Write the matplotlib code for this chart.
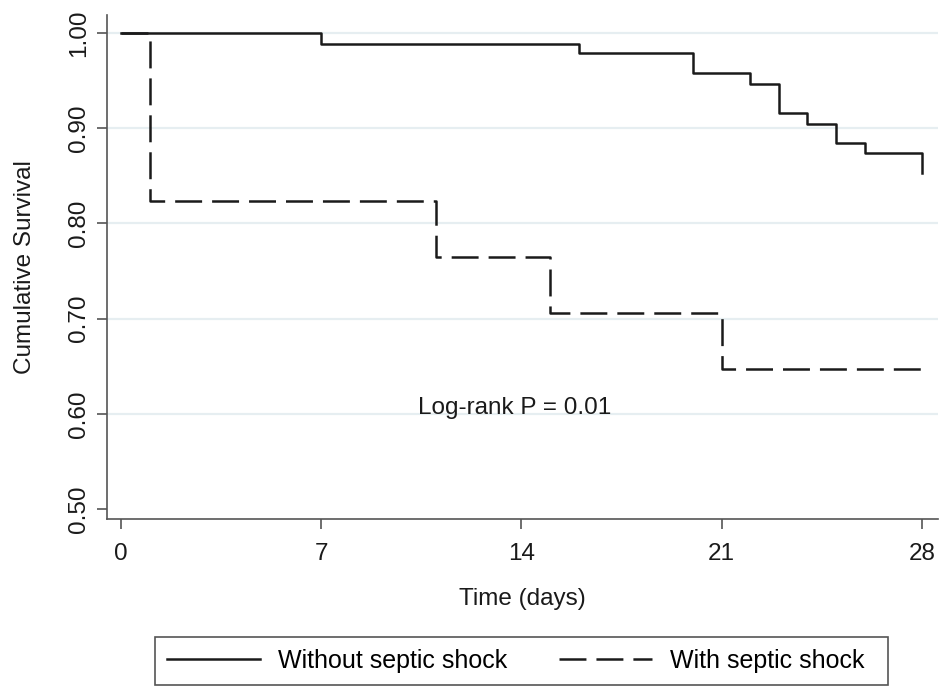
import matplotlib
matplotlib.use("Agg")
import matplotlib.pyplot as plt
from matplotlib.patches import Rectangle

plt.rcParams['font.family'] = ['Liberation Sans', 'DejaVu Sans']
plt.rcParams['lines.scale_dashes'] = False

# Data (Kaplan-Meier step points)
days_without = [0, 7, 16, 20, 22, 23, 24, 25, 26, 28]
surv_without = [1.0, 0.989, 0.979, 0.958, 0.947, 0.916, 0.905, 0.884, 0.874, 0.853]
days_with = [0, 1, 11, 15, 21, 28]
surv_with = [1.0, 0.824, 0.765, 0.706, 0.647, 0.647]

xticks = [0, 7, 14, 21, 28]
yticks = [0.50, 0.60, 0.70, 0.80, 0.90, 1.00]
ytick_labels = ["0.50", "0.60", "0.70", "0.80", "0.90", "1.00"]
labels = ["Without septic shock", "With septic shock"]
annotation = "Log-rank P = 0.01"

W, H = 941, 687
FS = 17.5
fig = plt.figure(figsize=(W/100, H/100), dpi=100)
ax = fig.add_axes([107/W, 1-519/H, (938-107)/W, (519-15)/H])

ax.step(days_with, surv_with, where='post', color='#1a1a1a', lw=1.8,
        dashes=(19.4, 7.2), label=labels[1], zorder=3)
ax.step(days_without, surv_without, where='post', color='#1a1a1a', lw=1.8,
        label=labels[0], zorder=4)

ax.set_xlim(-0.49, 28.57)
ax.set_ylim(0.4895, 1.019)
ax.set_xticks(xticks)
ax.set_yticks(yticks)
ax.set_yticklabels(ytick_labels, rotation=90, va='center')
ax.tick_params(axis='both', direction='out', length=7, width=1.2, color='#555555',
               labelsize=FS, labelcolor='#1a1a1a')
ax.tick_params(axis='x', pad=10)
ax.tick_params(axis='y', pad=5)

ax.yaxis.grid(True, color='#e6eef1', lw=1.6)
ax.get_ygridlines()[0].set_visible(False)
ax.set_axisbelow(True)

for s in ['top', 'right']:
    ax.spines[s].set_visible(False)
for s in ['left', 'bottom']:
    ax.spines[s].set_color('#555555')
    ax.spines[s].set_linewidth(1.2)

ax.set_xlabel("Time (days)", fontsize=FS, color='#1a1a1a', labelpad=17)
ax.set_ylabel("Cumulative Survival", fontsize=FS, color='#1a1a1a', labelpad=23.5)

ax.text(13.76, 0.606, annotation, fontsize=FS, ha='center', va='center', color='#1a1a1a')

# legend box
fig.patches.append(Rectangle((155/W, 1-685/H), (888-155)/W, (685-637)/H,
                             transform=fig.transFigure, fill=False,
                             edgecolor='#555555', lw=1.2))

h, l = ax.get_legend_handles_labels()
order = [1, 0]
leg = fig.legend([h[i] for i in order], [l[i] for i in order], loc='center left',
                 bbox_to_anchor=(156/W, 1-661/H), ncol=2, fontsize=18,
                 frameon=False, borderaxespad=0,
                 handlelength=3.72, handletextpad=0.72, columnspacing=2.04,
                 borderpad=0.45)

fig.savefig("out.png", dpi=100, facecolor='white')
